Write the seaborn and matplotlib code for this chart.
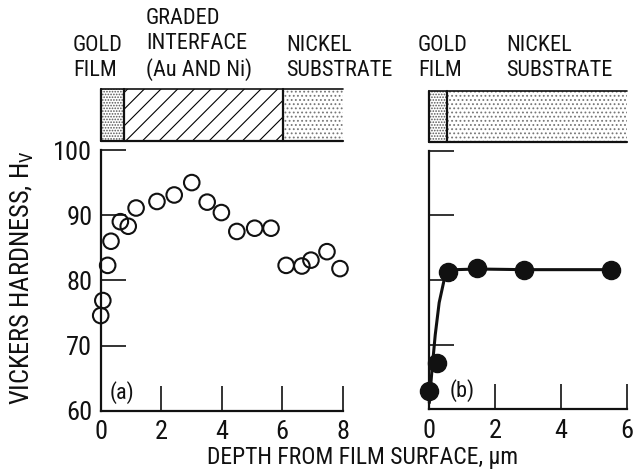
import matplotlib
matplotlib.use("Agg")
import matplotlib.pyplot as plt
from matplotlib import font_manager
from matplotlib.patches import Rectangle
import pandas as pd
import seaborn as sns

# panel (a): graded interface, open circles
depth_a = [0.0, 0.07, 0.23, 0.34, 0.65, 0.91, 1.17, 1.86, 2.43, 3.01,
           3.52, 3.99, 4.50, 5.09, 5.63, 6.13, 6.65, 6.95, 7.48, 7.91]
hard_a = [74.6, 76.9, 82.3, 86.0, 89.0, 88.3, 91.1, 92.1, 93.1, 95.0,
          92.0, 90.4, 87.5, 88.0, 88.0, 82.3, 82.2, 83.1, 84.4, 81.8]

# panel (b): sharp interface, filled circles + faired curve
depth_b = [0.0, 0.24, 0.58, 1.46, 2.88, 5.52]
hard_b = [62.9, 67.1, 81.3, 81.8, 81.5, 81.6]
curve_x = [0.0, 0.08, 0.18, 0.30, 0.45, 0.60, 0.80, 1.46, 2.88, 5.52]
curve_y = [61.0, 66.0, 71.5, 76.5, 80.0, 81.3, 81.6, 81.7, 81.6, 81.6]

ticks_a = [0, 2, 4, 6, 8]
ticks_b = [0, 2, 4, 6]
yticks = [60, 70, 80, 90, 100]

# layer bars above each panel: (start, end, hatch, colour)
layers_a = [(0.0, 0.77, "......", "#555555"), (0.77, 6.04, "//", "black"), (6.04, 8.0, "....", "#777777")]
layers_b = [(0.0, 0.53, "......", "#555555"), (0.53, 6.0, "....", "#777777")]


def pick_font():
    # prefer a condensed face, the original lettering is narrow
    for name, scale in [("Roboto Condensed", 1.0), ("Liberation Sans Narrow", 1.0), ("Roboto", 0.87)]:
        try:
            font_manager.findfont(name, fallback_to_default=False)
            return name, scale
        except ValueError:
            continue
    return "DejaVu Sans", 0.8


sns.set_style("ticks")
FONT_NAME, SC = pick_font()
FS_HEAD = 16 * SC
FS_TICK = 19 * SC
FS_XLAB = 17 * SC
FS_YLAB = 19 * SC
plt.rcParams["font.family"] = [FONT_NAME, "DejaVu Sans"]
plt.rcParams["mathtext.fontset"] = "custom"
plt.rcParams["mathtext.rm"] = FONT_NAME
plt.rcParams["mathtext.it"] = FONT_NAME
plt.rcParams["hatch.linewidth"] = 0.8

W, H = 635, 473
fig = plt.figure(figsize=(W / 100, H / 100), dpi=100)
ax_a = fig.add_axes([100.7 / W, 1 - 410.7 / H, 242 / W, 260.7 / H])
ax_b = fig.add_axes([429.3 / W, 1 - 409.3 / H, 197.4 / W, 258.6 / H])

ink = "#111111"

df_a = pd.DataFrame({"depth": depth_a, "hv": hard_a})
sns.scatterplot(data=df_a, x="depth", y="hv", ax=ax_a, s=125, facecolor="none",
                edgecolor=ink, linewidth=1.5, clip_on=False, zorder=5)

df_c = pd.DataFrame({"depth": curve_x, "hv": curve_y})
sns.lineplot(data=df_c, x="depth", y="hv", ax=ax_b, sort=False, color=ink,
             linewidth=2.2, clip_on=False, zorder=4)
df_b = pd.DataFrame({"depth": depth_b, "hv": hard_b})
sns.scatterplot(data=df_b, x="depth", y="hv", ax=ax_b, s=170, color=ink,
                edgecolor=ink, linewidth=1, clip_on=False, zorder=5)

for ax, xt, xmax, layers in [(ax_a, ticks_a, 8, layers_a), (ax_b, ticks_b, 6, layers_b)]:
    ax.set_xlim(0, xmax)
    ax.set_ylim(60, 100)
    ax.set_xticks(xt)
    ax.set_yticks(yticks)
    ax.set_xlabel("")
    ax.set_ylabel("")
    sns.despine(ax=ax)
    for side in ["left", "bottom"]:
        ax.spines[side].set_linewidth(1.6)
        ax.spines[side].set_color(ink)
    ax.tick_params(axis="both", direction="in", length=18, width=1.2, color=ink,
                   labelsize=FS_TICK, labelcolor=ink)
    ax.tick_params(axis="x", pad=7)
    ax.tick_params(axis="y", pad=6)
    # the tick at the origin would sit on the spine
    ax.xaxis.get_major_ticks()[0].tick1line.set_visible(False)
    ax.yaxis.get_major_ticks()[0].tick1line.set_visible(False)

    y0, y1 = 101.4, 109.3
    for x0, x1, hatch, col in layers:
        ax.add_patch(Rectangle((x0, y0), x1 - x0, y1 - y0, facecolor="white",
                               edgecolor=col, linewidth=0, hatch=hatch, clip_on=False, zorder=3))
    edges = sorted(set([l[0] for l in layers] + [l[1] for l in layers]))
    for e in edges[:-1]:
        ax.plot([e, e], [y0, y1], color=ink, linewidth=1.6, clip_on=False, zorder=4)
    ax.plot([0, xmax], [y0, y0], color=ink, linewidth=1.6, clip_on=False, zorder=4)
    ax.plot([0, xmax], [y1, y1], color=ink, linewidth=1.2, clip_on=False, zorder=4)

ax_b.set_yticklabels([])

fig.text(110 / W, 1 - 393 / H, "(a)", fontsize=FS_HEAD, va="center", ha="left", color=ink)
fig.text(450 / W, 1 - 391 / H, "(b)", fontsize=FS_HEAD, va="center", ha="left", color=ink)

header = [(73, "GOLD\nFILM"), (146, "GRADED\nINTERFACE\n(Au AND Ni)"), (286, "NICKEL\nSUBSTRATE"),
          (418, "GOLD\nFILM"), (506, "NICKEL\nSUBSTRATE")]
for x, label in header:
    fig.text(x / W, 1 - 81 / H, label, fontsize=FS_HEAD, ha="left", va="bottom",
             linespacing=1.25, color=ink)

fig.text(22 / W, 1 - 278 / H, "VICKERS HARDNESS, H$_{\\mathrm{V}}$", rotation=90,
         fontsize=FS_YLAB, ha="center", va="center", color=ink)
fig.text(363 / W, 1 - 457 / H, "DEPTH FROM FILM SURFACE, \u03bcm", fontsize=FS_XLAB,
         ha="center", va="center", color=ink)

fig.savefig("out.png", dpi=100, facecolor="white")
